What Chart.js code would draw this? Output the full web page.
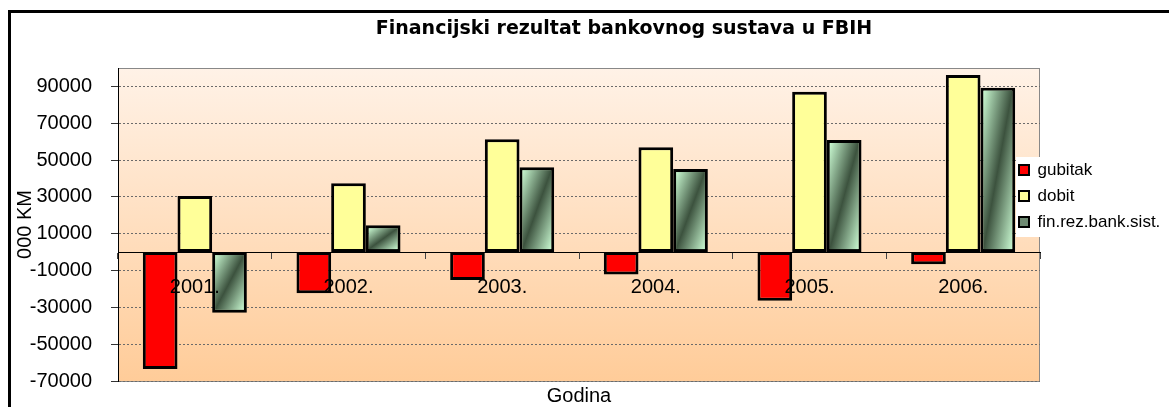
<!DOCTYPE html>
<html><head><meta charset="utf-8">
<script src="https://cdn.jsdelivr.net/npm/chart.js@4.4.1/dist/chart.umd.min.js"></script>
<style>
html,body{margin:0;padding:0;background:#fff;overflow:hidden;width:1169px;height:407px;}
#frame{position:absolute;left:8px;top:10px;width:1300px;height:500px;border:3px solid #000;box-sizing:border-box;}
#c{position:absolute;left:0;top:0;}
</style></head><body>
<div id="frame"></div>
<canvas id="c" width="1169" height="420"></canvas>
<script>
const categories = ['2001.', '2002.', '2003.', '2004.', '2005.', '2006.'];
const gubitak = [-63500, -22400, -15200, -12100, -26400, -6600];
const dobit = [30500, 37400, 61300, 56900, 87100, 96200];
const finRez = [-32900, 14600, 46100, 45100, 60900, 89300];
const yTicks = [-70000, -50000, -30000, -10000, 10000, 30000, 50000, 70000, 90000];
const seriesNames = ['gubitak', 'dobit', 'fin.rez.bank.sist.'];
const chartTitle = 'Financijski rezultat bankovnog sustava u FBIH';
const xTitle = 'Godina';
const yTitle = '000 KM';

const SANS = "'Liberation Sans', Arial, sans-serif";

const excelLook = {
  id: 'excelLook',
  afterLayout(chart) {
    const a = chart.chartArea;
    const L = chart.legend;
    if (L) {
      L.left = a.right - 30; L.top = a.top + 84.5;
      L.width = 160; L.height = 100;
      L.right = L.left + 160; L.bottom = L.top + 100;
    }
    const t = chart.titleBlock;
    if (t) { t.left = 24; t.right = 1224; t.width = 1200; }
  },
  beforeDraw(chart) {
    const {ctx, chartArea: a} = chart;
    const g = ctx.createLinearGradient(0, a.top, 0, a.bottom);
    g.addColorStop(0, '#FFF2E7');
    g.addColorStop(1, '#FFCC99');
    ctx.save();
    ctx.fillStyle = g;
    ctx.fillRect(a.left, a.top, a.right - a.left, a.bottom - a.top);
    ctx.strokeStyle = '#888';
    ctx.lineWidth = 1;
    ctx.strokeRect(a.left + 0.5, a.top + 0.5, a.right - a.left - 1, a.bottom - a.top);
    ctx.restore();
  },
  afterDatasetsDraw(chart) {
    const ctx = chart.ctx;
    const meta = chart.getDatasetMeta(2);
    const bw = 3;
    meta.data.forEach(el => {
      const p = el.getProps(['x', 'y', 'base', 'width'], true);
      const l = p.x - p.width / 2 + bw, r = p.x + p.width / 2 - bw;
      const t = Math.min(p.y, p.base) + bw, b = Math.max(p.y, p.base) - bw;
      if (r <= l || b <= t) return;
      ctx.save();
      ctx.translate(l, t);
      ctx.scale(r - l, b - t);
      const g = ctx.createLinearGradient(0, 0, 1, 1);
      g.addColorStop(0, '#C8F8D0');
      g.addColorStop(0.5, '#3C523E');
      g.addColorStop(1, '#C8F8D0');
      ctx.fillStyle = g;
      ctx.fillRect(0, 0, 1, 1);
      ctx.restore();
    });
    const a = chart.chartArea;
    ctx.save();
    ctx.fillStyle = '#fff';
    ctx.fillRect(a.right - 24, a.top + 89, 148, 80);
    ctx.restore();
    chart.legend.draw();
  }
};

const barBase = { borderColor: '#000', borderWidth: 3, borderSkipped: false, xAxisID: 'x', yAxisID: 'y' };

new Chart(document.getElementById('c'), {
  type: 'bar',
  data: {
    labels: categories,
    datasets: [
      Object.assign({ label: seriesNames[0], data: gubitak, backgroundColor: '#FF0000' }, barBase),
      Object.assign({ label: seriesNames[1], data: dobit, backgroundColor: '#FFFF99' }, barBase),
      Object.assign({ label: seriesNames[2], data: finRez, backgroundColor: '#6E8A72' }, barBase)
    ]
  },
  options: {
    responsive: false,
    animation: false,
    layout: { padding: { left: 9, right: 129, top: 0, bottom: 12 } },
    datasets: { bar: { categoryPercentage: 0.677, barPercentage: 1 } },
    plugins: {
      title: {
        display: true, text: chartTitle, color: '#000',
        font: { family: "'DejaVu Sans', Verdana, sans-serif", size: 19, weight: 'bold', lineHeight: 1.2 },
        padding: { top: 18, bottom: 27.2 }
      },
      legend: {
        position: 'chartArea', align: 'start',
        labels: {
          color: '#000', font: { family: SANS, size: 17 }, boxWidth: 10, boxHeight: 10, padding: 9,
          generateLabels(chart) {
            const items = Chart.defaults.plugins.legend.labels.generateLabels(chart);
            items.forEach(i => { i.lineWidth = 2; });
            return items;
          }
        }
      },
      tooltip: { enabled: false }
    },
    scales: {
      x: {
        type: 'category', position: { y: 0 }, offset: true,
        grid: { display: true, drawOnChartArea: false, drawTicks: true, tickLength: 6, color: '#444', offset: true },
        border: { display: true, color: '#000', width: 1 },
        ticks: { color: '#000', font: { family: SANS, size: 20 }, padding: 17, maxRotation: 0, autoSkip: false, z: 1 }
      },
      x2: {
        type: 'category', labels: categories, position: 'bottom',
        grid: { display: false, drawTicks: false }, border: { display: false }, ticks: { display: false },
        title: { display: true, text: xTitle, color: '#000', font: { family: SANS, size: 20 }, padding: { top: 3, bottom: 0 } }
      },
      y: {
        type: 'linear', position: 'left', min: -70000, max: 100000,
        afterBuildTicks(s) { s.ticks = yTicks.map(v => ({ value: v })); },
        afterFit(s) { s.width = 109; },
        ticks: { color: '#000', font: { family: SANS, size: 20 }, padding: 19, callback: v => String(v) },
        grid: { color: '#6a6a6a', lineWidth: 1, tickLength: 7, tickColor: '#333', tickBorderDash: [] },
        border: { display: true, color: '#000', width: 1, dash: [2, 2] },
        title: { display: true, text: yTitle, color: '#000', font: { family: SANS, size: 20 }, padding: { top: 4, bottom: 0 } }
      }
    }
  },
  plugins: [excelLook]
});
</script>
</body></html>
